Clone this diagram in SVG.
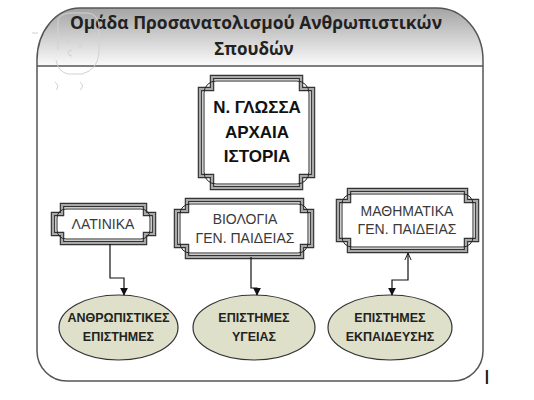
<svg xmlns="http://www.w3.org/2000/svg" width="534" height="400" viewBox="0 0 534 400">
<style>
.title{font-family:"Open Sans","Noto Sans","DejaVu Sans",sans-serif;font-weight:bold;font-size:17px;fill:#222;text-anchor:middle}
.big{font-family:"Liberation Sans",Arial,sans-serif;font-weight:bold;font-size:17px;fill:#111;text-anchor:middle}
.lbl{font-family:"Liberation Sans",Arial,sans-serif;font-size:14px;fill:#3a3a3a;text-anchor:middle}
.ell{font-family:"Liberation Sans",Arial,sans-serif;font-weight:bold;font-size:12.5px;fill:#222;text-anchor:middle}
.fo{fill:#fff;stroke:#333;stroke-width:4.5;stroke-linejoin:miter}
.fm{fill:none;stroke:#a8a8a8;stroke-width:2.2}
.fi{fill:none;stroke:#222;stroke-width:1}
.oval{fill:#dfe0c9;stroke:#333;stroke-width:1.2}
.conn{fill:none;stroke:#111;stroke-width:1.2}
.faint{fill:none;stroke:#d2d2d2;stroke-width:1}
</style>
<defs>
<linearGradient id="hg" x1="0" y1="0" x2="0" y2="1">
<stop offset="0" stop-color="#a4a4a4"/>
<stop offset="1" stop-color="#fbfbfb"/>
</linearGradient>
<marker id="ah" viewBox="0 0 10 10" refX="9" refY="5" markerWidth="8" markerHeight="8" orient="auto" markerUnits="userSpaceOnUse">
<path d="M0,0 L10,5 L0,10 Z" fill="#111"/>
</marker>
<marker id="oa" viewBox="0 0 10 10" refX="9" refY="5" markerWidth="8" markerHeight="8" orient="auto-start-reverse" markerUnits="userSpaceOnUse">
<path d="M0,1 L9,5 L0,9" fill="none" stroke="#111" stroke-width="1.2"/>
</marker>
</defs>
<rect width="534" height="400" fill="#fff"/>

<g id="container">
<path d="M37,66 V60 A43,52 0 0 1 80,8 H437 A46,52 0 0 1 483,60 V66 Z" fill="url(#hg)"/>
<path d="M37,60 A43,52 0 0 1 80,8 H437 A46,52 0 0 1 483,60 V351 A30,30 0 0 1 453,381 H67 A30,30 0 0 1 37,351 Z" fill="none" stroke="#555" stroke-width="1.5"/>
<line x1="37" y1="66" x2="483" y2="66" stroke="#555" stroke-width="1.5"/>
<text class="title" x="256" y="29" textLength="372" lengthAdjust="spacingAndGlyphs">Ομάδα Προσανατολισμού Ανθρωπιστικών</text>
<text class="title" x="254" y="55">Σπουδών</text>
</g>

<g id="watermark">
<path class="faint" d="M58,50 V20 Q60,14 70,13 H88 Q98,14 99,26 V52 Q98,70 82,74 H68 Q58,72 56,60"/>
<path class="faint" d="M70,36 Q66,36 66,40 Q66,43 70,43"/>
<path class="faint" d="M85,32 Q82,31 82,36 V44 Q82,47 79,47"/>
<path class="faint" d="M72,50 Q68,50 68,53 Q68,56 72,56"/>
<path class="faint" d="M55,82 Q60,86 56,90"/>
<path class="faint" d="M80,82 Q85,86 80,90"/>
<line class="faint" x1="32" y1="33" x2="38" y2="33"/>
</g>

<g id="node-glossa">
<path class="fo" d="M212,77 H301 V89 H313 V176 H301 V188 H212 V176 H200 V89 H212 Z"/>
<path class="fm" d="M212,77 H301 V89 H313 V176 H301 V188 H212 V176 H200 V89 H212 Z"/>
<rect class="fi" x="204" y="81" width="105" height="103" rx="12"/>
<text class="big" x="257" y="113">Ν. ΓΛΩΣΣΑ</text>
<text class="big" x="257" y="138">ΑΡΧΑΙΑ</text>
<text class="big" x="257" y="162">ΙΣΤΟΡΙΑ</text>
</g>

<g id="node-latinika">
<path class="fo" d="M62,205 H145 V214 H154 V234 H145 V243 H62 V234 H53 V214 H62 Z"/>
<path class="fm" d="M62,205 H145 V214 H154 V234 H145 V243 H62 V234 H53 V214 H62 Z"/>
<rect class="fi" x="57" y="209" width="93" height="30" rx="9"/>
<text class="lbl" x="103" y="229">ΛΑΤΙΝΙΚΑ</text>
</g>

<g id="node-biologia">
<path class="fo" d="M187,200 H302 V211 H312 V246 H302 V257 H187 V246 H176 V211 H187 Z"/>
<path class="fm" d="M187,200 H302 V211 H312 V246 H302 V257 H187 V246 H176 V211 H187 Z"/>
<rect class="fi" x="180" y="204" width="128" height="49" rx="10"/>
<text class="lbl" x="245" y="224">ΒΙΟΛΟΓΙΑ</text>
<text class="lbl" x="245" y="243">ΓΕΝ. ΠΑΙΔΕΙΑΣ</text>
</g>

<g id="node-mathimatika">
<path class="fo" d="M349,190 H466 V201 H477 V240 H466 V251 H349 V240 H338 V201 H349 Z"/>
<path class="fm" d="M349,190 H466 V201 H477 V240 H466 V251 H349 V240 H338 V201 H349 Z"/>
<rect class="fi" x="342" y="194" width="131" height="53" rx="10"/>
<text class="lbl" x="407" y="216">ΜΑΘΗΜΑΤΙΚΑ</text>
<text class="lbl" x="407" y="234">ΓΕΝ. ΠΑΙΔΕΙΑΣ</text>
</g>

<g id="node-anthropistikes">
<ellipse class="oval" cx="118.5" cy="327.5" rx="59.5" ry="32.5"/>
<text class="ell" x="118.5" y="322">ΑΝΘΡΩΠΙΣΤΙΚΕΣ</text>
<text class="ell" x="118.5" y="341">ΕΠΙΣΤΗΜΕΣ</text>
</g>

<g id="node-ygeias">
<ellipse class="oval" cx="254" cy="327.5" rx="61" ry="32.5"/>
<text class="ell" x="254" y="322">ΕΠΙΣΤΗΜΕΣ</text>
<text class="ell" x="254" y="341">ΥΓΕΙΑΣ</text>
</g>

<g id="node-ekpaideysis">
<ellipse class="oval" cx="390" cy="327.5" rx="62" ry="32.5"/>
<text class="ell" x="390" y="322">ΕΠΙΣΤΗΜΕΣ</text>
<text class="ell" x="390" y="341">ΕΚΠΑΙΔΕΥΣΗΣ</text>
</g>

<g id="connectors">
<path class="conn" d="M110,244 V278 H124 V295" marker-end="url(#ah)"/>
<path class="conn" d="M251,257 V288 H257 V295" marker-end="url(#ah)"/>
<path class="conn" d="M408,253 V280 H392 V295" marker-start="url(#oa)" marker-end="url(#ah)"/>
</g>

<text x="487" y="384" font-family="Liberation Sans, Arial, sans-serif" font-size="21" fill="#111" text-anchor="middle">I</text>
</svg>
